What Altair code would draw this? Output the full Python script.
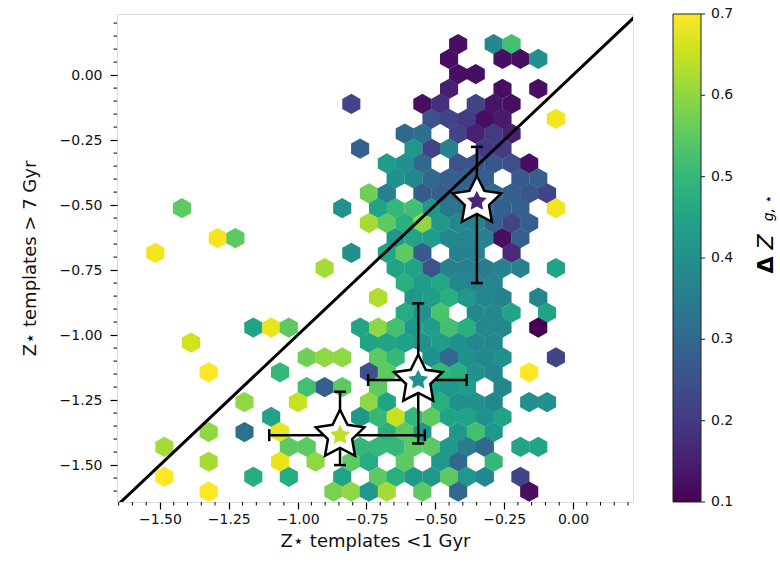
import altair as alt
import pandas as pd

# ---- hexbin lattice (centres) ----
col_x_a = [-0.062, -0.126, -0.191, -0.256, -0.320, -0.385, -0.450, -0.514, -0.579, -0.644,
           -0.708, -0.773, -0.838, -0.902, -0.967, -1.032, -1.096, -1.161, -1.226, -1.290,
           -1.355, -1.420, -1.484, -1.549]
col_x_b = [-0.094, -0.159, -0.223, -0.288, -0.353, -0.417, -0.482, -0.547, -0.611, -0.676,
           -0.741, -0.805, -0.870, -0.935, -0.999, -1.064, -1.129, -1.193, -1.258, -1.323,
           -1.387, -1.452, -1.517]
row_y = [0.119, 0.062, 0.004, -0.053, -0.111, -0.168, -0.225, -0.283, -0.340, -0.397,
         -0.455, -0.512, -0.569, -0.627, -0.684, -0.742, -0.799, -0.856, -0.914, -0.971,
         -1.029, -1.086, -1.143, -1.200, -1.258, -1.315, -1.373, -1.430, -1.487, -1.545, -1.602]

# filled cells per row: "column:DeltaZ"  (even rows use col_x_b, odd rows col_x_a)
hex_rows = [
    "5:.12 3:.38 2:.52",
    "6:.12 3:.12 2:.12 1:.40",
    "5:.12 4:.12",
    "6:.15 3:.12 1:.12",
    "11:.22 7:.12 6:.18 4:.22 3:.13 2:.12",
    "7:.25 6:.22 5:.20 4:.12 3:.14 0:.69",
    "8:.30 7:.32 5:.22 4:.15 3:.20 2:.15",
    "11:.28 8:.42 7:.22 6:.36 4:.20 3:.20",
    "9:.43 8:.40 7:.30 5:.25 4:.25 3:.26 2:.24 1:.12",
    "9:.40 8:.38 7:.30 6:.28 5:.28 4:.28 2:.27 1:.28",
    "10:.57 9:.36 7:.27 6:.28 5:.30 4:.30 3:.30 2:.28 1:.26 0:.22",
    "21:.55 12:.40 10:.45 9:.50 8:.52 7:.42 6:.34 5:.33 4:.33 3:.28 2:.28 0:.69",
    "10:.62 9:.55 8:.48 7:.60 6:.42 5:.38 4:.37 3:.28 2:.22 1:.28",
    "19:.69 18:.55 9:.42 8:.45 7:.43 6:.38 5:.37 4:.36 3:.12 2:.28",
    "22:.69 11:.40 9:.45 8:.55 7:.27 5:.36 4:.36 2:.17",
    "13:.62 9:.45 8:.45 7:.25 6:.36 5:.36 4:.35 3:.36 2:.36 0:.45",
    "8:.48 7:.43 6:.46 5:.38 4:.36 3:.37",
    "10:.63 8:.42 7:.43 6:.48 5:.42 4:.37 3:.36 1:.37",
    "8:.47 7:.40 6:.53 4:.38 3:.38 2:.45 0:.45",
    "17:.45 16:.68 15:.55 11:.45 10:.60 9:.52 8:.42 7:.43 6:.52 5:.48 4:.38 3:.38 1:.10",
    "20:.66 10:.45 9:.45 8:.44 7:.40 6:.43 5:.40 4:.38 3:.38",
    "14:.57 13:.60 12:.60 10:.55 9:.50 7:.40 6:.30 5:.40 4:.38 3:.40 0:.22",
    "19:.70 15:.50 10:.25 9:.55 6:.50 5:.48 4:.40 3:.38 1:.70",
    "14:.52 13:.28 12:.55 10:.55 8:.45 7:.45 6:.42 5:.43 3:.38",
    "17:.60 14:.65 10:.60 9:.45 6:.48 5:.40 4:.40 3:.38 1:.40 0:.40",
    "16:.45 11:.42 10:.50 9:.65 8:.50 7:.55 6:.45 5:.45 4:.40 3:.45",
    "19:.60 17:.32 15:.68 9:.48 8:.55 7:.42 5:.42 4:.52 3:.42",
    "22:.62 15:.55 14:.55 11:.50 10:.50 9:.50 8:.55 7:.55 6:.42 5:.35 4:.30 2:.45 1:.45",
    "19:.62 15:.68 13:.60 11:.55 10:.47 8:.55 6:.42 5:.30 3:.50",
    "22:.70 17:.47 15:.47 12:.45 10:.55 9:.48 8:.42 7:.42 6:.55 5:.42 4:.38 2:.22",
    "19:.70 12:.58 11:.60 10:.42 9:.62 7:.55 5:.30 1:.12",
]

# ---- the three stars with error bars ----
star_x = [-0.349, -0.562, -0.846]
star_y = [-0.485, -1.173, -1.385]
star_dz = [0.16, 0.40, 0.64]
star_ylo = [-0.800, -1.417, -1.500]
star_yhi = [-0.276, -0.878, -1.218]
star_xlo = [-0.349, -0.744, -1.103]
star_xhi = [-0.349, -0.386, -0.538]

diag_xy = [-1.7, 0.3]

x_major = [-1.5, -1.25, -1.0, -0.75, -0.5, -0.25, 0.0]
y_major = [-1.5, -1.25, -1.0, -0.75, -0.5, -0.25, 0.0]
x_minor = [-1.65, -1.60, -1.55, -1.45, -1.40, -1.35, -1.30, -1.20, -1.15, -1.10, -1.05,
           -0.95, -0.90, -0.85, -0.80, -0.70, -0.65, -0.60, -0.55, -0.45, -0.40, -0.35,
           -0.30, -0.20, -0.15, -0.10, -0.05, 0.05, 0.10, 0.15, 0.20]
y_minor = [-1.60, -1.55, -1.45, -1.40, -1.35, -1.30, -1.20, -1.15, -1.10, -1.05,
           -0.95, -0.90, -0.85, -0.80, -0.70, -0.65, -0.60, -0.55, -0.45, -0.40, -0.35,
           -0.30, -0.20, -0.15, -0.10, -0.05, 0.05, 0.10, 0.15, 0.20]
cbar_ticks = [0.1, 0.2, 0.3, 0.4, 0.5, 0.6, 0.7]
cbar_inner_labels = [0.2, 0.3, 0.4, 0.5, 0.6]
cbar_end_labels = [0.1, 0.7]

XDOM = [-1.656, 0.218]
YDOM = [-1.642, 0.235]

# ---- tables ----
cells = []
for r, spec in enumerate(hex_rows):
    xs_row = col_x_b if r % 2 == 0 else col_x_a
    for tok in spec.split():
        c, v = tok.split(":")
        cells.append({"x": xs_row[int(c)], "y": row_y[r], "dz": float(v)})
hex_df = pd.DataFrame(cells)

star_df = pd.DataFrame({"x": star_x, "y": star_y, "dz": star_dz,
                        "ylo": star_ylo, "yhi": star_yhi, "xlo": star_xlo, "xhi": star_xhi})
hbar_df = star_df[star_df["xlo"] < star_df["xhi"]]
vcap_df = pd.DataFrame({"x": star_x + star_x, "y": star_ylo + star_yhi})
hcap_df = pd.DataFrame({"x": list(hbar_df["xlo"]) + list(hbar_df["xhi"]),
                        "y": list(hbar_df["y"]) + list(hbar_df["y"])})
diag_df = pd.DataFrame({"x": diag_xy, "y": diag_xy})
xminor_df = pd.DataFrame({"x": x_minor})
yminor_df = pd.DataFrame({"y": y_minor})
cb_df = pd.DataFrame({"v": cbar_ticks})
cb_end_df = pd.DataFrame({"v": cbar_end_labels})
one = pd.DataFrame({"a": [0]})

FONT = "DejaVu Sans"
HEX = "M0,-1L0.894,-0.5L0.894,0.5L0,1L-0.894,0.5L-0.894,-0.5Z"
STAR = ("M0,-1L0.294,-0.405L0.951,-0.309L0.476,0.155L0.588,0.809L0,0.5"
        "L-0.588,0.809L-0.476,0.155L-0.951,-0.309L-0.294,-0.405Z")

xs = alt.Scale(domain=XDOM, nice=False, zero=False)
ys = alt.Scale(domain=YDOM, nice=False, zero=False)
cs = alt.Scale(scheme="viridis", domain=[0.1, 0.7], clamp=True)

x_axis = alt.Axis(values=x_major, format=".2f", title="Z⋆ templates <1 Gyr", domain=False,
                  grid=False, tickSize=7, tickWidth=1.2, tickColor="black", labelFontSize=14,
                  labelColor="#111", labelPadding=3, labelFont=FONT, titleFont=FONT,
                  titleFontSize=18, titleFontWeight="normal", titleColor="#111", titlePadding=6)
y_axis = alt.Axis(values=y_major, format=".2f", title="Z⋆ templates > 7 Gyr", domain=False,
                  grid=False, tickSize=7, tickWidth=1.2, tickColor="black", labelFontSize=14,
                  labelColor="#111", labelPadding=8, labelFont=FONT, titleFont=FONT,
                  titleFontSize=18, titleFontWeight="normal", titleColor="#111", titlePadding=20)


def X(field):
    return alt.X(field, scale=xs, axis=x_axis)


def Y(field):
    return alt.Y(field, scale=ys, axis=y_axis)


legend = alt.Legend(type="gradient", orient="none", legendX=556, legendY=0,
                    direction="vertical", gradientLength=488, gradientThickness=28,
                    values=cbar_inner_labels, format=".1f", labelFontSize=14, labelFont=FONT,
                    labelColor="#111", labelOffset=10, gradientStrokeColor="#222",
                    gradientStrokeWidth=1, padding=0, title=None)

hexes = alt.Chart(hex_df).mark_point(shape=HEX, size=410, filled=True, opacity=1,
                                      strokeWidth=0, clip=True).encode(
    x=X("x:Q"), y=Y("y:Q"),
    color=alt.Color("dz:Q", scale=cs, legend=legend),
)

diag = alt.Chart(diag_df).mark_line(color="black", strokeWidth=3, clip=True).encode(
    x=X("x:Q"), y=Y("y:Q"))

xminor = alt.Chart(xminor_df).mark_rule(color="black", strokeWidth=1).encode(
    x=X("x:Q"), y=alt.value(488), y2=alt.value(491.5))
yminor = alt.Chart(yminor_df).mark_rule(color="black", strokeWidth=1).encode(
    y=Y("y:Q"), x=alt.value(0), x2=alt.value(-3.5))

vbars = alt.Chart(star_df).mark_rule(color="black", strokeWidth=2.5).encode(
    x=X("x:Q"), y=Y("ylo:Q"), y2="yhi:Q")
hbars = alt.Chart(hbar_df).mark_rule(color="black", strokeWidth=2.5).encode(
    y=Y("y:Q"), x=X("xlo:Q"), x2="xhi:Q")
vcaps = alt.Chart(vcap_df).mark_tick(orient="horizontal", size=12, thickness=2.5,
                                     color="black", opacity=1).encode(x=X("x:Q"), y=Y("y:Q"))
hcaps = alt.Chart(hcap_df).mark_tick(orient="vertical", size=12, thickness=2.5,
                                     color="black", opacity=1).encode(x=X("x:Q"), y=Y("y:Q"))

outer = alt.Chart(star_df).mark_point(shape=STAR, size=2600, filled=True, fill="white",
                                       stroke="black", strokeWidth=2.5, opacity=1).encode(
    x=X("x:Q"), y=Y("y:Q"))
inner = alt.Chart(star_df).mark_point(shape=STAR, size=441, filled=True, opacity=1,
                                       strokeWidth=0).encode(
    x=X("x:Q"), y=Y("y:Q"), color=alt.Color("dz:Q", scale=cs, legend=None))

t_delta = alt.Chart(one).mark_text(text="Δ", angle=270, fontSize=22, fontWeight="bold",
                                   font=FONT, color="black").encode(
    x=alt.value(649), y=alt.value(251))
t_z = alt.Chart(one).mark_text(text="Z", angle=270, fontSize=22, fontStyle="italic",
                               font=FONT, color="black").encode(
    x=alt.value(649), y=alt.value(228))
t_sub = alt.Chart(one).mark_text(text="g, ⋆", angle=270, fontSize=14, fontStyle="italic",
                                 font=FONT, color="black").encode(
    x=alt.value(652), y=alt.value(194))

main = alt.layer(hexes, diag, xminor, yminor, vbars, hbars, vcaps, hcaps, outer, inner,
                 t_delta, t_z, t_sub)

# colour-bar ticks and end labels on their own y scale (0.1 .. 0.7 over the bar height)
cb_scale = alt.Scale(domain=[0.1, 0.7], nice=False, zero=False)
cbt = alt.Chart(cb_df).mark_rule(color="#222", strokeWidth=1).encode(
    y=alt.Y("v:Q", scale=cb_scale, axis=None),
    x=alt.value(584), x2=alt.value(588))
cbl = alt.Chart(cb_end_df).mark_text(align="left", baseline="middle", fontSize=14, font=FONT,
                                     color="#111").encode(
    y=alt.Y("v:Q", scale=cb_scale, axis=None),
    x=alt.value(594), text=alt.Text("v:Q", format=".1f"))
cbar = alt.layer(cbt, cbl)

chart = alt.layer(main, cbar).resolve_scale(y="independent").properties(
    width=516, height=488,
    autosize=alt.AutoSizeParams(type="none"),
    padding={"left": 117, "top": 14, "right": 147, "bottom": 66},
).configure_view(stroke="black", strokeWidth=1.5).configure(font=FONT)

chart.save("out.html", embed_options={"renderer": "svg", "actions": False})
